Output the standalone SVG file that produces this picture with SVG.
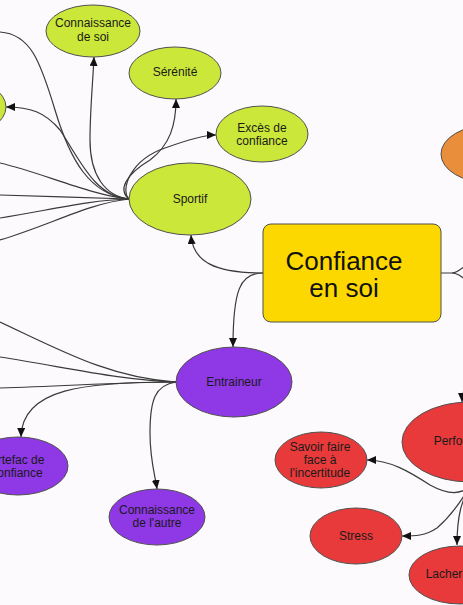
<svg xmlns="http://www.w3.org/2000/svg" width="463" height="605" viewBox="0 0 463 605">
<defs>
<style>
.e{fill:none;stroke:#3a3a3a;stroke-width:1.2}
.a{marker-end:url(#arr)}
.n{stroke:#505050;stroke-width:1}
.g{fill:#cbe83a}
.p{fill:#8f38e6}
.r{fill:#e83a3a}
.o{fill:#e98e3a}
.y{fill:#fcd800}
text{font-family:"Liberation Sans",Arial,sans-serif;font-size:12px;fill:#1a1a1a;text-anchor:middle}
.big{font-size:26px;fill:#111}
</style>
<marker id="arr" markerUnits="userSpaceOnUse" markerWidth="9" markerHeight="8" refX="9" refY="4" orient="auto">
<path d="M0,0 L9,4 L0,8 z" fill="#111"/>
</marker>
</defs>
<rect width="463" height="605" fill="#fcfafc"/>
<g id="connectors">
<path class="e" d="M0,32 C30,34 40,60 55,110 C70,160 90,195 129,199"/>
<path class="e a" d="M129,199 C95,197 80,160 60,130 C45,112 30,107 6,107"/>
<path class="e" d="M0,163 C40,172 90,195 129,199"/>
<path class="e" d="M0,195 C40,196 90,198 129,199"/>
<path class="e" d="M0,218 C50,210 90,200 129,199"/>
<path class="e" d="M0,240 C50,225 90,203 129,199"/>
<path class="e a" d="M129,199 C105,196 90,175 90,140 C90,110 93,80 94,57"/>
<path class="e a" d="M129,199 C118,190 125,175 150,160 C170,145 176,125 176,99"/>
<path class="e a" d="M129,199 C120,190 130,160 165,148 C190,139 205,135 216,135"/>
<path class="e a" d="M263,273 C215,273 193,262 191,235"/>
<path class="e a" d="M263,273 C240,273 233,290 233,347"/>
<path class="e" d="M441,273 L452,273 C458,273 462,268 470,262"/>
<path class="e" d="M452,273 C458,273 462,277 470,283"/>
<path class="e a" d="M466,386 C463,391 462,396 462,402"/>
<path class="e" d="M0,322 C60,350 110,378 176,382"/>
<path class="e" d="M0,357 C70,368 120,380 176,382"/>
<path class="e" d="M0,388 C70,386 120,382 176,382"/>
<path class="e a" d="M176,382 C85,382 22,388 21,437"/>
<path class="e a" d="M176,382 C155,385 150,400 150,433 C150,460 155,475 157,489"/>
<path class="e a" d="M470,486 C462,494 450,496 430,485 C410,472 390,460 367,460"/>
<path class="e a" d="M470,486 C462,500 452,515 437,528 C425,536 415,536 402,536"/>
<path class="e a" d="M470,486 C462,500 457,515 457,545"/>
</g>
<g id="node-left-green"><ellipse class="n g" cx="-40" cy="107" rx="46" ry="28"/></g>
<g id="node-connaissance-soi"><ellipse class="n g" cx="93" cy="31" rx="47" ry="26"/><text x="93" y="27">Connaissance</text><text x="93" y="41">de soi</text></g>
<g id="node-serenite"><ellipse class="n g" cx="175" cy="73" rx="46" ry="26"/><text x="175" y="76">Sérénité</text></g>
<g id="node-exces"><ellipse class="n g" cx="262" cy="134" rx="46" ry="28"/><text x="262" y="132">Excès de</text><text x="262" y="145">confiance</text></g>
<g id="node-sportif"><ellipse class="n g" cx="190" cy="199" rx="61" ry="36"/><text x="190" y="203">Sportif</text></g>
<g id="node-confiance"><rect class="n y" x="263" y="224" width="178" height="98" rx="8"/><text class="big" x="344" y="270">Confiance</text><text class="big" x="344" y="297">en soi</text></g>
<g id="node-orange"><ellipse class="n o" cx="490" cy="154" rx="49" ry="29"/></g>
<g id="node-entraineur"><ellipse class="n p" cx="234" cy="382" rx="58" ry="35"/><text x="234" y="386">Entraineur</text></g>
<g id="node-artefac"><ellipse class="n p" cx="18" cy="466" rx="50" ry="29"/><text x="17" y="464">Artefac de</text><text x="17" y="477">confiance</text></g>
<g id="node-connaissance-autre"><ellipse class="n p" cx="157" cy="517" rx="48" ry="28"/><text x="157" y="514">Connaissance</text><text x="157" y="527">de l'autre</text></g>
<g id="node-savoir"><ellipse class="n r" cx="321" cy="460" rx="46" ry="28"/><text x="320" y="451">Savoir faire</text><text x="320" y="464">face à</text><text x="320" y="477">l'incertitude</text></g>
<g id="node-stress"><ellipse class="n r" cx="356" cy="536" rx="46" ry="28"/><text x="356" y="540">Stress</text></g>
<g id="node-performance"><ellipse class="n r" cx="470" cy="442" rx="68" ry="40"/><text x="468" y="445">Performance</text></g>
<g id="node-lacher"><ellipse class="n r" cx="460" cy="575" rx="51" ry="29"/><text x="459" y="578">Lacher-prise</text></g>
</svg>
